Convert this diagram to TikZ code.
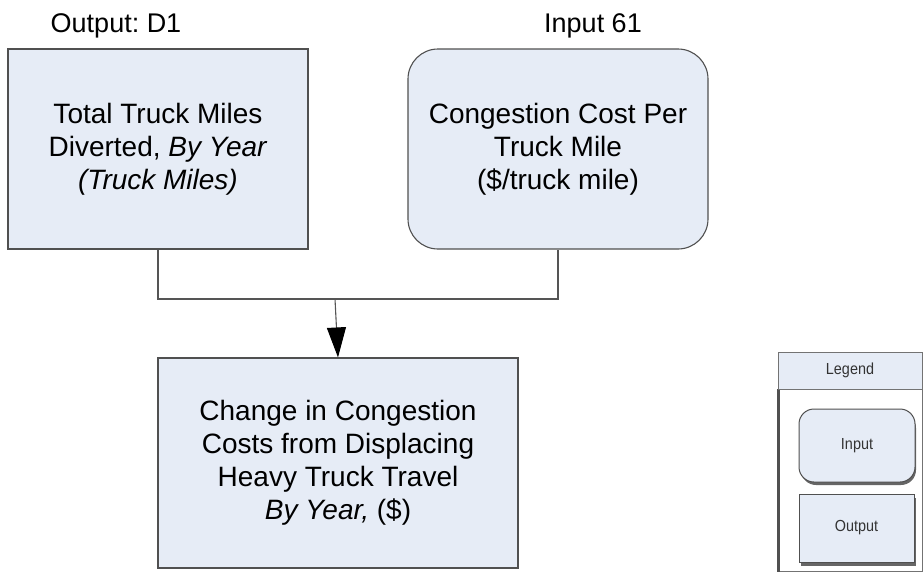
\documentclass[tikz,border=0pt]{standalone}
\usepackage{fontspec}
\setmainfont{Liberation Sans}
\newfontfamily\legendfont[FakeStretch=0.9]{Liberation Sans}
\usetikzlibrary{arrows.meta}
\definecolor{boxfill}{HTML}{E6ECF6}
\definecolor{boxline}{HTML}{505050}
\definecolor{wirecol}{HTML}{555555}
\frenchspacing
\tikzset{
  x=1pt, y=-1pt,
  boxtext/.style={font=\fontsize{28}{33}\selectfont, align=center, text=black},
  outbox/.style={boxtext, draw=boxline, fill=boxfill, line width=1.1pt, rectangle,
    inner sep=0pt},
  inbox/.style={outbox, rounded corners=30pt},
  toplabel/.style={font=\fontsize{27}{32}\selectfont, anchor=base, inner sep=0pt},
  wire/.style={draw=wirecol, line width=1.1pt},
  legtext/.style={font=\legendfont\fontsize{16}{19}\selectfont, text=black!80},
  legframe/.style={draw=boxline!80, line width=1pt},
  legshadow/.style={fill=black!60, draw=none},
}
\begin{document}
\begin{tikzpicture}
\useasboundingbox (0,0) rectangle (924,573);

% main boxes
\node[outbox, minimum width=300pt, minimum height=200pt] (miles) at (158,149)
  {Total Truck Miles\\Diverted, \textit{By Year}\\\textit{(Truck Miles)}};
\node[inbox, minimum width=300pt, minimum height=200pt] (rate) at (558,149)
  {Congestion Cost Per\\Truck Mile\\(\$/truck mile)};
\node[outbox, minimum width=360pt, minimum height=210pt] (change) at (338,463)
  {Change in Congestion\\Costs from Displacing\\Heavy Truck Travel\\\textit{By Year,} (\$)};

% labels above the boxes
\node[toplabel] (milesid) at (116,32) {Output: D1};
\node[toplabel] (rateid) at (593,32) {Input 61};

% connectors
\coordinate (join) at (335,299);
\draw[wire] (miles.south) |- (join) -| (rate.south);
\draw[wire, -{Triangle[width=19pt,length=30pt,color=black,fill=black]}]
  (join) -- (change.north);

% legend
\draw[legframe] (778,352) rectangle (922,571);
\draw[draw=boxline, line width=2.5pt] (778.5,389) -- (778.5,572);
\node[legframe, fill=boxfill, minimum width=144pt, minimum height=37pt,
  inner sep=0pt, legtext] (legendhead) at (850,370.5) {Legend};

\fill[legshadow, rounded corners=15pt] (801,413) rectangle (916,485);
\node[draw=boxline, fill=boxfill, line width=1pt, rounded corners=15pt,
  minimum width=116pt, minimum height=73pt, inner sep=0pt, legtext]
  (leginput) at (857,445.5) {Input};

\fill[legshadow] (801,498) rectangle (916,566);
\node[draw=boxline, fill=boxfill, line width=1pt,
  minimum width=115pt, minimum height=68pt, inner sep=0pt, legtext]
  (legoutput) at (856.5,528) {Output};
\end{tikzpicture}
\end{document}
